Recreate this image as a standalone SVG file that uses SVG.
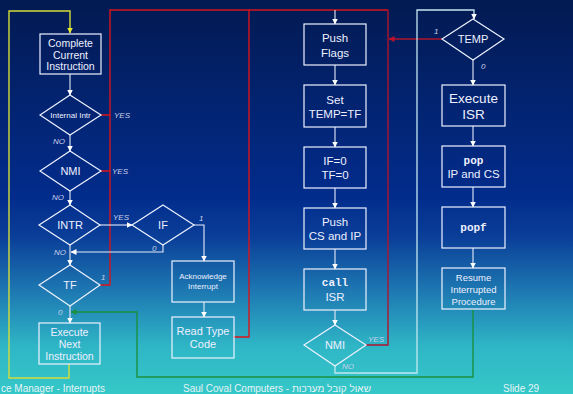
<svg xmlns="http://www.w3.org/2000/svg" width="573" height="394" viewBox="0 0 573 394">
  <defs>
    <linearGradient id="bg" x1="0" y1="0" x2="0" y2="1">
      <stop offset="0" stop-color="#031a52"/>
      <stop offset="0.5" stop-color="#022c8c"/>
      <stop offset="0.6" stop-color="#0a3e98"/>
      <stop offset="0.75" stop-color="#1f7db4"/>
      <stop offset="0.88" stop-color="#2fb6c6"/>
      <stop offset="1" stop-color="#35c8c8"/>
    </linearGradient>
    <marker id="arr" viewBox="0 0 6 6" refX="5.5" refY="3" markerWidth="6" markerHeight="6" markerUnits="userSpaceOnUse" orient="auto">
      <path d="M0,0 L6,3 L0,6 z" fill="#ffffff"/>
    </marker>
    <marker id="arrY" viewBox="0 0 6 6" refX="5.5" refY="3" markerWidth="6" markerHeight="6" markerUnits="userSpaceOnUse" orient="auto">
      <path d="M0,0 L6,3 L0,6 z" fill="#e8e830"/>
    </marker>
    <marker id="arrR" viewBox="0 0 6 6" refX="5.5" refY="3" markerWidth="6" markerHeight="6" markerUnits="userSpaceOnUse" orient="auto">
      <path d="M0,0 L6,3 L0,6 z" fill="#c0102a"/>
    </marker>
    <marker id="arrG" viewBox="0 0 6 6" refX="5.5" refY="3" markerWidth="6" markerHeight="6" markerUnits="userSpaceOnUse" orient="auto">
      <path d="M0,0 L6,3 L0,6 z" fill="#1a9040"/>
    </marker>
  </defs>
  <style>
    .node rect, .node polygon { fill: none; stroke: #eef2ff; stroke-width: 1.2; }
    .t { font-family: "Liberation Sans", Arial, sans-serif; fill: #eef0ff; text-anchor: middle; }
    .mono { font-family: "Liberation Mono", "Courier New", monospace; font-weight: bold; fill: #eef0ff; text-anchor: middle; }
    .lbl { font-family: "Liberation Sans", Arial, sans-serif; font-style: italic; font-size: 8px; fill: #c8d0ea; }
    .w { fill: none; stroke: #e8ecf8; stroke-width: 1.1; }
    .red { fill: none; stroke: #d8141c; stroke-width: 1.4; }
    .dred { fill: none; stroke: #b0142c; stroke-width: 1.4; }
    .yel { fill: none; stroke: #d4dc3a; stroke-width: 1.4; }
    .grn { fill: none; stroke: #1a9040; stroke-width: 1.4; }
    .cy { fill: none; stroke: #c4e8f0; stroke-width: 1.3; }
    .foot { font-family: "Liberation Sans", Arial, sans-serif; font-size: 10px; fill: #e6f4f6; }
  </style>

  <rect x="0" y="0" width="573" height="394" fill="url(#bg)"/>

  <!-- connectors -->
  <g id="connectors">
    <!-- loop back from Execute Next Instruction -->
    <path class="yel" d="M69,364 V378 H9 V11 H70 V33" marker-end="url(#arrY)"/>
    <!-- interrupt taken paths -->
    <path class="red" d="M101,115 H110 M101,171 H110 M100,285 H110 V10 H388"/>
    <path class="red" d="M233,337 H249 V10"/>
    <path class="dred" d="M388,10 V345 H366"/>
    <path class="dred" d="M442,39 H389" marker-end="url(#arrR)"/>
    <!-- left column -->
    <path class="w" d="M70,74 V95" marker-end="url(#arr)"/>
    <path class="w" d="M70,135 V151" marker-end="url(#arr)"/>
    <path class="w" d="M70,191 V205" marker-end="url(#arr)"/>
    <path class="w" d="M70,245 V265" marker-end="url(#arr)"/>
    <path class="w" d="M70,306 V323" marker-end="url(#arr)"/>
    <path class="w" d="M100,225 H132" marker-end="url(#arr)"/>
    <path class="w" d="M163,245 V252 H71" marker-end="url(#arr)"/>
    <path class="w" d="M194,225 H204 V261" marker-end="url(#arr)"/>
    <path class="w" d="M204,302 V317" marker-end="url(#arr)"/>
    <!-- return from Resume -->
    <path class="grn" d="M473,309 V377 H137 V312 H71" marker-end="url(#arrG)"/>
    <!-- middle column -->
    <path class="w" d="M335,10 V24" marker-end="url(#arr)"/>
    <path class="w" d="M335,65 V85" marker-end="url(#arr)"/>
    <path class="w" d="M335,127 V147" marker-end="url(#arr)"/>
    <path class="w" d="M335,188 V208" marker-end="url(#arr)"/>
    <path class="w" d="M335,249 V269" marker-end="url(#arr)"/>
    <path class="w" d="M335,310 V325" marker-end="url(#arr)"/>
    <path class="cy" d="M335,366 V373 H417 V10 H474 V19" marker-end="url(#arr)"/>
    <!-- right column -->
    <path class="w" d="M473,60 V85" marker-end="url(#arr)"/>
    <path class="w" d="M473,126 V146" marker-end="url(#arr)"/>
    <path class="w" d="M473,187 V207" marker-end="url(#arr)"/>
    <path class="w" d="M473,248 V268" marker-end="url(#arr)"/>

    <!-- connector labels -->
    <text class="lbl" x="114" y="118">YES</text>
    <text class="lbl" x="53" y="144">NO</text>
    <text class="lbl" x="112" y="174">YES</text>
    <text class="lbl" x="52" y="200">NO</text>
    <text class="lbl" x="113" y="220">YES</text>
    <text class="lbl" x="54" y="255">NO</text>
    <text class="lbl" x="101" y="280">1</text>
    <text class="lbl" x="58" y="315">0</text>
    <text class="lbl" x="199" y="221">1</text>
    <text class="lbl" x="152" y="251">0</text>
    <text class="lbl" x="368" y="342">YES</text>
    <text class="lbl" x="342" y="369">NO</text>
    <text class="lbl" x="434" y="34">1</text>
    <text class="lbl" x="481" y="69">0</text>
  </g>

  <!-- left column -->
  <g id="complete" class="node">
    <rect x="40" y="34" width="61" height="40"/>
    <text class="t" font-size="10.5" x="70.5" y="47">Complete</text>
    <text class="t" font-size="10.5" x="70.5" y="58.5">Current</text>
    <text class="t" font-size="10.5" x="70.5" y="70">Instruction</text>
  </g>
  <g id="internal" class="node">
    <polygon points="70,95 101,115 70,135 40,115"/>
    <text class="t" font-size="8" x="70.5" y="118">Internal Intr</text>
  </g>
  <g id="nmi1" class="node">
    <polygon points="70,151 101,171 70,191 40,171"/>
    <text class="t" font-size="11" x="70.5" y="175">NMI</text>
  </g>
  <g id="intr" class="node">
    <polygon points="70,205 100,225 70,245 39,225"/>
    <text class="t" font-size="11" x="70" y="229">INTR</text>
  </g>
  <g id="tf" class="node">
    <polygon points="70,265 100,285 70,306 39,285"/>
    <text class="t" font-size="11" x="70" y="289">TF</text>
  </g>
  <g id="execnext" class="node">
    <rect x="39" y="323" width="61" height="41"/>
    <text class="t" font-size="10.5" x="69.5" y="336">Execute</text>
    <text class="t" font-size="10.5" x="69.5" y="348">Next</text>
    <text class="t" font-size="10.5" x="69.5" y="360">Instruction</text>
  </g>

  <g id="if" class="node">
    <polygon points="163,205 194,225 163,245 132,225"/>
    <text class="t" font-size="11" x="163" y="229">IF</text>
  </g>
  <g id="ack" class="node">
    <rect x="172" y="261" width="62" height="41"/>
    <text class="t" font-size="8" x="203" y="279">Acknowledge</text>
    <text class="t" font-size="8" x="203" y="289">Interrupt</text>
  </g>
  <g id="readtype" class="node">
    <rect x="172" y="317" width="62" height="41"/>
    <text class="t" font-size="11" x="203" y="335">Read Type</text>
    <text class="t" font-size="11" x="203" y="348">Code</text>
  </g>

  <!-- middle column -->
  <g id="pushflags" class="node">
    <rect x="304" y="24" width="62" height="41"/>
    <text class="t" font-size="11.5" x="335" y="42">Push</text>
    <text class="t" font-size="11.5" x="335" y="57">Flags</text>
  </g>
  <g id="settemp" class="node">
    <rect x="304" y="85" width="62" height="42"/>
    <text class="t" font-size="11.5" x="335" y="104">Set</text>
    <text class="t" font-size="11.5" x="335" y="118">TEMP=TF</text>
  </g>
  <g id="clear" class="node">
    <rect x="304" y="147" width="62" height="41"/>
    <text class="t" font-size="11.5" x="335" y="165">IF=0</text>
    <text class="t" font-size="11.5" x="335" y="179">TF=0</text>
  </g>
  <g id="pushcs" class="node">
    <rect x="304" y="208" width="62" height="41"/>
    <text class="t" font-size="11.5" x="335" y="226">Push</text>
    <text class="t" font-size="11.5" x="335" y="240">CS and IP</text>
  </g>
  <g id="call" class="node">
    <rect x="304" y="269" width="62" height="41"/>
    <text class="mono" font-size="11" x="335" y="286">call</text>
    <text class="t" font-size="11.5" x="335" y="301">ISR</text>
  </g>
  <g id="nmi2" class="node">
    <polygon points="335,325 366,345 335,366 304,345"/>
    <text class="t" font-size="11" x="335" y="349">NMI</text>
  </g>

  <!-- right column -->
  <g id="temp" class="node">
    <polygon points="473,19 504,39 473,60 442,39"/>
    <text class="t" font-size="11" x="473" y="43">TEMP</text>
  </g>
  <g id="execisr" class="node">
    <rect x="442" y="85" width="63" height="41"/>
    <text class="t" font-size="13.5" x="473.5" y="103">Execute</text>
    <text class="t" font-size="13.5" x="473.5" y="119">ISR</text>
  </g>
  <g id="popipcs" class="node">
    <rect x="442" y="146" width="63" height="41"/>
    <text class="mono" font-size="11" x="473.5" y="164">pop</text>
    <text class="t" font-size="11.5" x="473.5" y="178">IP and CS</text>
  </g>
  <g id="popf" class="node">
    <rect x="442" y="207" width="63" height="41"/>
    <text class="mono" font-size="11" x="473.5" y="231">popf</text>
  </g>
  <g id="resume" class="node">
    <rect x="442" y="268" width="63" height="41"/>
    <text class="t" font-size="9.5" x="473.5" y="281">Resume</text>
    <text class="t" font-size="9.5" x="473.5" y="293">Interrupted</text>
    <text class="t" font-size="9.5" x="473.5" y="305">Procedure</text>
  </g>

  <!-- footer -->
  <text class="foot" x="1" y="392">ce Manager - Interrupts</text>
  <text class="foot" x="183" y="392">Saul Coval Computers - שאול קובל מערכות</text>
  <text class="foot" x="503" y="392">Slide 29</text>
</svg>
